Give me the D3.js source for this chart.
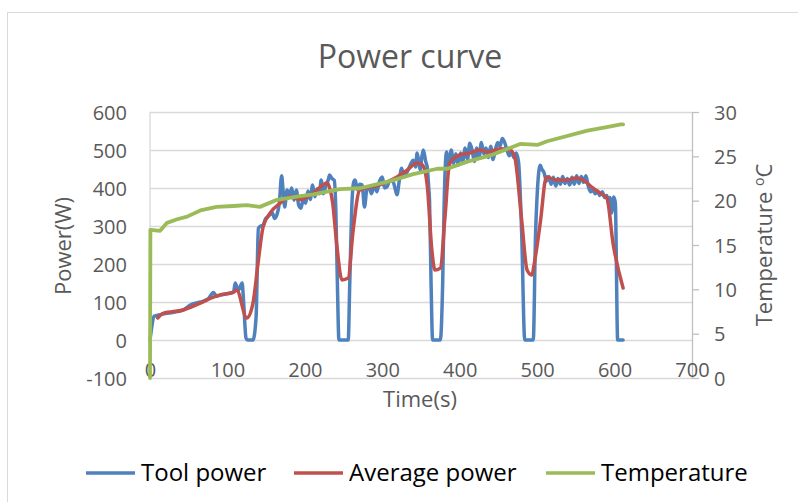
<!DOCTYPE html>
<html><head><meta charset="utf-8">
<script src="https://cdn.jsdelivr.net/npm/d3@7"></script>
<style>
html,body{margin:0;padding:0;background:#fff;}
svg{display:block;font-family:"Open Sans",sans-serif;}
</style></head>
<body>
<svg id="chart" width="798" height="502"></svg>
<script>
// ---- data ----
const xTicks = [0,100,200,300,400,500,600,700];
const yLeftTicks = [-100,0,100,200,300,400,500,600];
const yRightTicks = [0,5,10,15,20,25,30];
const seriesNames = ["Tool power","Average power","Temperature"];
const seriesColors = ["#4f81bd","#c0504d","#9bbb59"];

const toolTime = [0,2,5,22,43,52,65,75,82,86,90,100,108,110,114,119,121,124,126,133,137,
  140,143,146,149,152,155,158,161,164,167,170,172,174,177,180,183,186,189,192,195,198,201,204,207,210,213,216,219,221,224,227,230,232,235,238,240,242,244,
  256,258,261,263,265,268,271,274,277,280,283,286,290,293,296,300,303,306,310,314,317,319,322,325,328,332,336,340,343,345,347,349,351,353,356,358,360,361,363,365,
  375,378,380,383,386,389,392,395,398,401,404,407,410,413,416,419,422,425,428,431,434,437,440,443,446,449,452,455,458,461,464,467,470,473,476,480,484,
  495,498,504,506,509,512,515,518,521,524,527,530,533,536,539,542,545,548,551,554,557,560,563,566,569,572,575,578,581,584,587,590,592,594,596,599,601,604,611];
const toolPower = [0,30,62,70,79,92,100,108,125,115,118,122,126,150,131,150,97,5,0,0,60,
  294,300,302,318,324,330,334,320,330,360,432,390,350,395,380,400,368,395,355,347,372,360,392,370,408,377,398,385,421,385,405,420,434,425,420,342,150,0,
  0,150,368,415,421,395,410,408,350,395,403,385,408,390,415,429,400,403,420,416,395,382,420,452,430,442,460,473,455,492,470,447,480,500,470,455,400,368,150,0,
  0,150,368,495,450,500,465,490,460,492,470,505,475,518,500,470,505,480,520,490,505,480,510,475,500,520,510,530,520,500,485,495,480,492,468,282,0,
  0,282,460,450,440,418,430,410,428,405,425,410,430,412,425,408,428,410,432,412,430,415,432,405,390,395,385,392,380,390,375,380,360,375,334,376,360,0,0];

const avgTime = [10,17,43,65,82,90,108,112,125,133,140,146,155,168,181,194,211,229,232,236,241,248,256,262,271,297,319,332,345,352,358,364,368,375,381,387,400,413,426,436,452,465,471,480,487,493,497,504,512,525,538,551,559,572,581,590,598,611];
const avgPower = [58,70,79,97,113,118,126,131,58,97,210,297,334,360,377,370,387,413,400,360,255,158,163,282,395,408,429,447,466,460,408,237,184,189,324,466,487,492,500,495,503,500,482,316,184,171,210,308,429,421,421,426,421,400,387,374,255,137];

const tempTime = [0,0.5,13,22,35,48,65,86,108,125,142,164,194,211,245,271,310,340,371,384,410,443,478,501,513,565,590,608,611];
const tempValue = [0,16.7,16.6,17.5,17.9,18.2,18.9,19.3,19.4,19.5,19.3,20.1,20.5,20.7,21.3,21.4,22.2,23.0,23.6,23.6,24.4,25.2,26.4,26.3,26.7,27.9,28.3,28.6,28.6];

// ---- layout ----
const svg = d3.select("#chart");
const L = 150, R = 692, T = 112, B = 378;
const x = d3.scaleLinear().domain([0,700]).range([L,R]);
const yL = d3.scaleLinear().domain([-100,600]).range([B,T]);
const yR = d3.scaleLinear().domain([0,30]).range([B,T]);
const grey = "#595959", gridC = "#d9d9d9";
const fmt = d => String(d);

// chart border
svg.append("rect").attr("x",7.5).attr("y",12.5).attr("width",800).attr("height",500)
  .attr("fill","#fff").attr("stroke","#d9d9d9").attr("stroke-width",1);

// title
svg.append("text").attr("x",410).attr("y",68).attr("text-anchor","middle")
  .attr("font-size",32).attr("fill",grey).text("Power curve");

// gridlines + left labels
const gL = svg.append("g").attr("transform",`translate(${L},0)`)
  .call(d3.axisLeft(yL).tickValues(yLeftTicks).tickFormat(fmt).tickSize(-(R-L)).tickPadding(23));
gL.select(".domain").remove();
gL.selectAll(".tick line").attr("stroke",gridC).attr("stroke-width",1.3);
gL.selectAll(".tick text").attr("fill",grey).attr("font-size",20).attr("font-family","Open Sans").attr("dy","0.36em");

// left axis vertical line
svg.append("line").attr("x1",L).attr("x2",L).attr("y1",T).attr("y2",B).attr("stroke",gridC).attr("stroke-width",1.3);

// right axis
const gR = svg.append("g").attr("transform",`translate(${R},0)`)
  .call(d3.axisRight(yR).tickValues(yRightTicks).tickFormat(fmt).tickSize(7).tickSizeOuter(0).tickPadding(15));
gR.select(".domain").attr("stroke","#bfbfbf").attr("stroke-width",1.3);
gR.selectAll(".tick line").attr("stroke","#bfbfbf").attr("stroke-width",1.3);
gR.selectAll(".tick text").attr("fill",grey).attr("font-size",20).attr("font-family","Open Sans").attr("dy","0.36em");

// bottom labels (sitting on the lowest gridline)
const gB = svg.append("g").attr("transform",`translate(0,${B})`)
  .call(d3.axisBottom(x).tickValues(xTicks).tickFormat(fmt).tickSize(0));
gB.select(".domain").remove();
gB.selectAll(".tick text").attr("fill",grey).attr("font-size",20).attr("font-family","Open Sans")
  .attr("y",-1).attr("dy","0");

// axis titles
svg.append("text").attr("transform","translate(71,246) rotate(-90)").attr("text-anchor","middle")
  .attr("font-size",22).attr("fill",grey).text("Power(W)");
const tt = svg.append("text").attr("transform","translate(772,245) rotate(-90)").attr("text-anchor","middle")
  .attr("font-size",22).attr("fill",grey);
tt.append("tspan").text("Temperature ");
tt.append("tspan").attr("font-size",14).attr("dy",-8).text("o");
tt.append("tspan").attr("dy",8).text("C");
svg.append("text").attr("x",420).attr("y",407).attr("text-anchor","middle")
  .attr("font-size",22).attr("fill",grey).text("Time(s)");

// series
const g = svg.append("g");
const lineL = d3.line().x(d=>x(d[0])).y(d=>yL(d[1])).curve(d3.curveMonotoneX);
const lineR = d3.line().x(d=>x(d[0])).y(d=>yR(d[1])).curve(d3.curveLinear);
const toolData = toolTime.map((t,i)=>[t,toolPower[i]]);
const avgData = avgTime.map((t,i)=>[t,avgPower[i]]);
const tempData = tempTime.map((t,i)=>[t,tempValue[i]]);
g.append("path").attr("d",lineL(toolData)).attr("fill","none").attr("stroke",seriesColors[0])
  .attr("stroke-width",3.5).attr("stroke-linejoin","round").attr("stroke-linecap","round");
g.append("path").attr("d",lineL(avgData)).attr("fill","none").attr("stroke",seriesColors[1])
  .attr("stroke-width",3.5).attr("stroke-linejoin","round").attr("stroke-linecap","round");
g.append("path").attr("d",lineR(tempData)).attr("fill","none").attr("stroke",seriesColors[2])
  .attr("stroke-width",3.8).attr("stroke-linejoin","round").attr("stroke-linecap","round");

// legend
const legX = [86,294,546];
const leg = svg.append("g");
seriesNames.forEach((n,i)=>{
  leg.append("line").attr("x1",legX[i]).attr("x2",legX[i]+49).attr("y1",473).attr("y2",473)
    .attr("stroke",seriesColors[i]).attr("stroke-width",3.5);
  leg.append("text").attr("x",legX[i]+55).attr("y",481).attr("font-size",24).attr("fill","#000").text(n);
});
</script>
</body></html>
